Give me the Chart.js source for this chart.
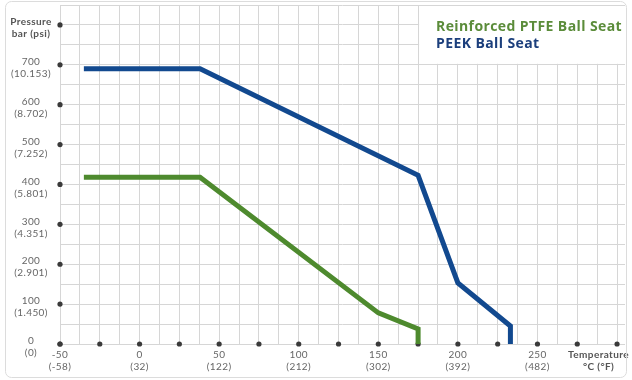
<!DOCTYPE html>
<html>
<head>
<meta charset="utf-8">
<script src="https://cdn.jsdelivr.net/npm/chart.js"></script>
<style>
  html, body { margin: 0; padding: 0; background: #fff; }
</style>
</head>
<body>
<canvas id="chart" width="632" height="380"></canvas>
<script>
// temperature in °C, pressure in bar
const ptfeTemp = [-35, 38, 150, 175, 175];
const ptfePressure = [418, 418, 78, 38, 0];
const peekTemp = [-35, 38, 175, 200, 233, 233];
const peekPressure = [690, 690, 423, 153, 45, 0];

const seriesNames = ['Reinforced PTFE Ball Seat', 'PEEK Ball Seat'];
const seriesColors = ['#4e8a2e', '#12498f'];
const legendColors = ['#5b8c3a', '#1c3f7c'];

const yTickValues = [0, 100, 200, 300, 400, 500, 600, 700, 800];
const yTickLabels = [
  ['0', '(0)'], ['100', '(1.450)'], ['200', '(2.901)'], ['300', '(4.351)'],
  ['400', '(5.801)'], ['500', '(7.252)'], ['600', '(8.702)'], ['700', '(10.153)'],
  ['Pressure', 'bar (psi)']
];
const xTickValues = [-50, 0, 50, 100, 150, 200, 250, 300];
const xTickLabels = [
  ['-50', '(-58)'], ['0', '(32)'], ['50', '(122)'], ['100', '(212)'],
  ['150', '(302)'], ['200', '(392)'], ['250', '(482)'], ['Temperature', '°C (°F)']
];
const xDotValues = [-50, -25, 0, 25, 50, 75, 100, 125, 150, 175, 200, 225, 250, 275, 300];

const toPoints = (xs, ys) => xs.map((x, i) => ({ x: x, y: ys[i] }));

const axisDecor = {
  id: 'axisDecor',
  beforeDatasetsDraw(chart) {
    const ctx = chart.ctx;
    const xs = chart.scales.x, ys = chart.scales.y;
    const area = chart.chartArea;
    // white box behind the legend
    ctx.save();
    ctx.fillStyle = '#fff';
    const bx = xs.getPixelForValue(175) + 1;
    const by = ys.getPixelForValue(700) - 1;
    ctx.fillRect(bx, area.top + 1, area.right - bx + 2, by - area.top - 1);
    // dots
    ctx.fillStyle = '#3a3a3a';
    yTickValues.forEach(v => {
      ctx.beginPath();
      ctx.arc(xs.getPixelForValue(-50), ys.getPixelForValue(v), 2.6, 0, Math.PI * 2);
      ctx.fill();
    });
    xDotValues.forEach(v => {
      ctx.beginPath();
      ctx.arc(xs.getPixelForValue(v), ys.getPixelForValue(0), 2.6, 0, Math.PI * 2);
      ctx.fill();
    });
    ctx.restore();
  },
  afterDraw(chart) {
    const ctx = chart.ctx;
    const xs = chart.scales.x, ys = chart.scales.y;
    ctx.save();
    ctx.textBaseline = 'middle';
    ctx.textAlign = 'center';
    ctx.letterSpacing = '0.4px';
    // y labels
    yTickValues.forEach((v, i) => {
      const y = ys.getPixelForValue(v);
      const isTitle = i === yTickValues.length - 1;
      ctx.font = (isTitle ? 'bold ' : '') + '10px Lato';
      ctx.fillStyle = isTitle ? '#555' : '#666';
      ctx.fillText(yTickLabels[i][0], 31, y - 3);
      ctx.fillText(yTickLabels[i][1], 31, y + 9);
    });
    // x labels
    const y0 = ys.getPixelForValue(0);
    xTickValues.forEach((v, i) => {
      const isTitle = i === xTickValues.length - 1;
      ctx.font = (isTitle ? 'bold ' : '') + '10px Lato';
      ctx.fillStyle = isTitle ? '#555' : '#666';
      let x = xs.getPixelForValue(v);
      const w = Math.max(ctx.measureText(xTickLabels[i][0]).width, ctx.measureText(xTickLabels[i][1]).width);
      x = Math.min(x, 629 - w / 2);
      ctx.fillText(xTickLabels[i][0], x, y0 + 11);
      ctx.fillText(xTickLabels[i][1], x, y0 + 23);
    });
    // legend
    ctx.textAlign = 'left';
    ctx.letterSpacing = '0.4px';
    ctx.font = 'bold 14px "Open Sans"';
    chart.data.datasets.forEach((ds, i) => {
      ctx.fillStyle = legendColors[i];
      ctx.fillText(ds.label, 436, 27 + i * 17);
    });
    // frame
    ctx.strokeStyle = '#dcdcdc';
    ctx.lineWidth = 1;
    ctx.beginPath();
    ctx.roundRect(5.5, 1.5, 621, 376, 6);
    ctx.stroke();
    ctx.restore();
  }
};

new Chart(document.getElementById('chart'), {
  type: 'line',
  data: {
    datasets: [
      {
        label: seriesNames[0],
        data: toPoints(ptfeTemp, ptfePressure),
        borderColor: seriesColors[0],
        borderWidth: 5,
        pointRadius: 0,
        tension: 0,
        fill: false,
        clip: false
      },
      {
        label: seriesNames[1],
        data: toPoints(peekTemp, peekPressure),
        borderColor: seriesColors[1],
        borderWidth: 5,
        pointRadius: 0,
        tension: 0,
        fill: false,
        clip: false
      }
    ]
  },
  options: {
    responsive: false,
    animation: false,
    layout: { padding: { left: 60, right: 7, top: 5, bottom: 36 } },
    plugins: {
      legend: { display: false },
      tooltip: { enabled: false }
    },
    scales: {
      x: {
        type: 'linear',
        min: -50,
        max: 305,
        ticks: { display: false, stepSize: 12.5, includeBounds: false },
        grid: { color: '#d6d6d6', drawTicks: false },
        border: { display: false }
      },
      y: {
        min: 0,
        max: 850,
        ticks: { display: false, stepSize: 50 },
        grid: { color: '#d6d6d6', drawTicks: false },
        border: { display: false }
      }
    }
  },
  plugins: [axisDecor]
});
</script>
</body>
</html>
